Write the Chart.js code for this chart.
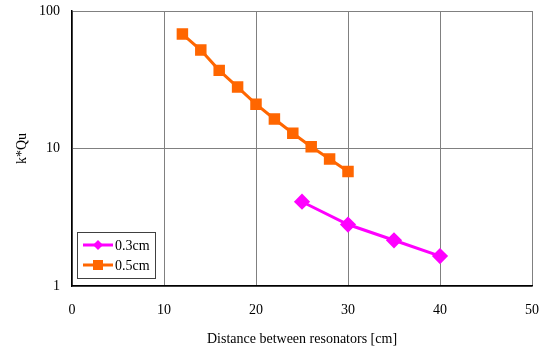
<!DOCTYPE html>
<html>
<head>
<meta charset="utf-8">
<script src="https://cdn.jsdelivr.net/npm/chart.js@4/dist/chart.umd.min.js"></script>
<style>
  body { margin: 0; background: #fff; }
  #wrap { width: 549px; height: 349px; }
</style>
</head>
<body>
<div id="wrap"><canvas id="grafica"></canvas></div>
<script>
// datos
var dist03 = [25, 30, 35, 40];
var kqu03 = [4.1, 2.8, 2.15, 1.65];
var dist05 = [12, 14, 16, 18, 20, 22, 24, 26, 28, 30];
var kqu05 = [68, 52, 37, 28, 21, 16.4, 12.9, 10.3, 8.4, 6.8];
var etiquetas = ['0.3cm', '0.5cm'];
var yTicks = [1, 10, 100];
var xTicks = [0, 10, 20, 30, 40, 50];

var fuente = { family: '"Liberation Serif", "Times New Roman", serif', size: 14 };

function puntos(xs, ys){
    return xs.map((x, i) => ({ x: x, y: ys[i] }));
}

// leyenda dentro del area del grafico
var leyenda = {
    id: 'leyenda',
    afterDraw(chart){
        let ctx = chart.ctx,
        area = chart.chartArea,
        x0 = area.left + 5, y0 = area.bottom - 54, w = 78, h = 46;
        ctx.save();
        ctx.fillStyle = '#fff';
        ctx.fillRect(x0, y0, w, h);
        ctx.strokeStyle = '#404040';
        ctx.lineWidth = 1;
        ctx.strokeRect(x0 + 0.5, y0 + 0.5, w, h);
        chart.data.datasets.forEach((ds, i) => {
            let cy = y0 + 13 + i * 20;
            ctx.strokeStyle = ds.borderColor;
            ctx.lineWidth = 3;
            ctx.beginPath();
            ctx.moveTo(x0 + 6, cy);
            ctx.lineTo(x0 + 36, cy);
            ctx.stroke();
            ctx.fillStyle = ds.backgroundColor;
            let cx = x0 + 21;
            if(ds.pointStyle == 'rect'){
                ctx.fillRect(cx - 5, cy - 5, 10, 10);
            }else{
                ctx.beginPath();
                ctx.moveTo(cx, cy - 5);
                ctx.lineTo(cx + 5, cy);
                ctx.lineTo(cx, cy + 5);
                ctx.lineTo(cx - 5, cy);
                ctx.closePath();
                ctx.fill();
            }
            ctx.fillStyle = '#000';
            ctx.font = '14px ' + fuente.family;
            ctx.textBaseline = 'middle';
            ctx.fillText(ds.label, x0 + 38, cy + 1);
        });
        ctx.restore();
    }
};

new Chart(document.getElementById('grafica'), {
    type: 'line',
    data: {
        datasets: [
            {
                label: etiquetas[0],
                data: puntos(dist03, kqu03),
                borderColor: '#FF00FF',
                backgroundColor: '#FF00FF',
                borderWidth: 3,
                pointStyle: 'rectRot',
                pointRadius: 6,
                pointHoverRadius: 6
            },
            {
                label: etiquetas[1],
                data: puntos(dist05, kqu05),
                borderColor: '#FF6600',
                backgroundColor: '#FF6600',
                borderWidth: 3,
                pointStyle: 'rect',
                pointRadius: 6,
                pointHoverRadius: 6
            }
        ]
    },
    options: {
        responsive: true,
        maintainAspectRatio: false,
        animation: false,
        layout: { padding: { top: 11, right: 17, left: 0, bottom: 0 } },
        plugins: { legend: { display: false }, tooltip: { enabled: false } },
        scales: {
            x: {
                type: 'linear',
                min: 0,
                max: 50,
                afterBuildTicks: s => { s.ticks = xTicks.map(v => ({ value: v })); },
                afterFit: s => { s.height = 63; s.paddingLeft = 0; s.paddingRight = 0; },
                ticks: { color: '#000', font: fuente, padding: 16, maxRotation: 0 },
                grid: { color: '#808080', lineWidth: 1, drawTicks: false },
                border: { color: '#000', width: 1.5 },
                title: { display: true, text: 'Distance between resonators [cm]', color: '#000', font: fuente, padding: { top: 0, bottom: 1 } }
            },
            y: {
                type: 'logarithmic',
                min: 1,
                max: 100,
                afterBuildTicks: s => { s.ticks = yTicks.map(v => ({ value: v })); },
                afterFit: s => { s.width = 72; s.paddingTop = 0; s.paddingBottom = 0; },
                ticks: { color: '#000', font: fuente, padding: 12, callback: v => String(v) },
                grid: { color: '#808080', lineWidth: 1, drawTicks: false },
                border: { color: '#000', width: 1.5 },
                title: { display: true, text: 'k*Qu', color: '#000', font: fuente, padding: { top: 14, bottom: 0 } }
            }
        }
    },
    plugins: [leyenda]
});
</script>
</body>
</html>
